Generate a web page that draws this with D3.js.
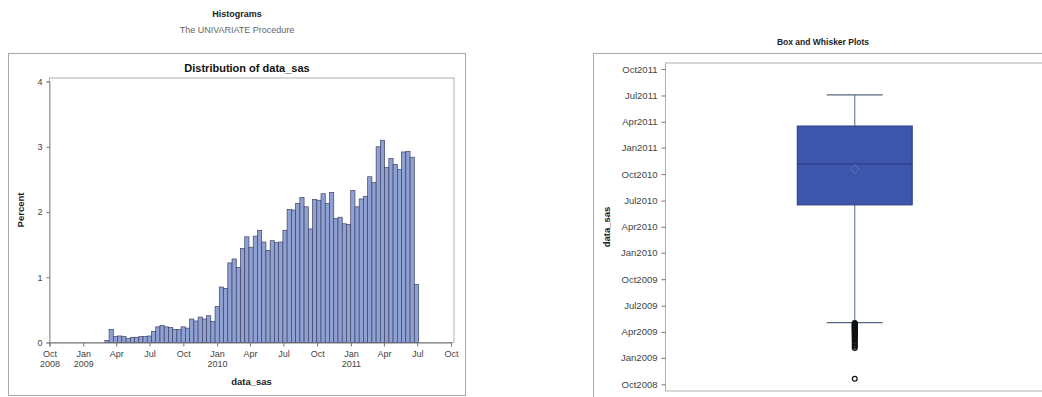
<!DOCTYPE html>
<html>
<head>
<meta charset="utf-8">
<script src="https://cdn.jsdelivr.net/npm/d3@7/dist/d3.min.js"></script>
<style>
  html, body { margin: 0; padding: 0; background: #fff; }
  svg { display: block; font-family: "Liberation Sans", Arial, sans-serif; }
</style>
</head>
<body>
<svg id="chart" width="1042" height="397"></svg>
<script>
// ---- Histogram data: percent of observations per date bin ----
const binFirstStart = "2009-03-01";
const binWidthDays = 11.56;
const binPercents = [
  0.03, 0.20, 0.09, 0.10, 0.09, 0.06, 0.08, 0.08, 0.09, 0.09,
  0.10, 0.17, 0.24, 0.26, 0.24, 0.23, 0.20, 0.20, 0.24, 0.22,
  0.36, 0.33, 0.39, 0.36, 0.41, 0.32, 0.55, 0.85, 0.83, 1.22,
  1.28, 1.15, 1.44, 1.62, 1.46, 1.63, 1.72, 1.54, 1.41, 1.56,
  1.53, 1.54, 1.72, 2.04, 2.03, 2.13, 2.22, 2.08, 1.74, 2.19,
  2.18, 2.28, 2.13, 2.30, 1.90, 1.92, 1.82, 1.81, 2.33, 2.08,
  2.20, 2.24, 2.54, 2.45, 3.00, 3.10, 2.68, 2.82, 2.73, 2.65,
  2.92, 2.93, 2.84, 0.89
];
const histTickDates = [
  "2008-10-01", "2009-01-01", "2009-04-01", "2009-07-01", "2009-10-01",
  "2010-01-01", "2010-04-01", "2010-07-01", "2010-10-01",
  "2011-01-01", "2011-04-01", "2011-07-01", "2011-10-01"
];
const histTickMonths = ["Oct", "Jan", "Apr", "Jul", "Oct", "Jan", "Apr", "Jul", "Oct", "Jan", "Apr", "Jul", "Oct"];
const histTickYears  = ["2008", "2009", "", "", "", "2010", "", "", "", "2011", "", "", ""];
const percentTicks = [0, 1, 2, 3, 4];

// ---- Box plot summary of data_sas ----
const boxStatNames  = ["lowWhisker", "q1", "median", "mean", "q3", "highWhisker"];
const boxStatDates  = ["2009-05-03", "2010-06-16", "2010-11-05", "2010-10-18", "2011-03-17", "2011-07-03"];
const outlierDates = [
  "2009-05-02", "2009-04-30", "2009-04-28", "2009-04-26", "2009-04-24", "2009-04-22",
  "2009-04-20", "2009-04-18", "2009-04-16", "2009-04-14", "2009-04-12", "2009-04-10",
  "2009-04-08", "2009-04-06", "2009-04-04", "2009-04-01", "2009-03-29", "2009-03-26",
  "2009-03-23", "2009-03-20", "2009-03-17", "2009-03-14", "2009-03-10", "2009-03-06",
  "2009-03-02", "2009-02-25", "2009-02-19", "2009-02-14", "2009-02-09", "2009-02-04",
  "2008-10-20"
];
const boxTickDates = [
  "2008-10-01", "2009-01-01", "2009-04-01", "2009-07-01", "2009-10-01",
  "2010-01-01", "2010-04-01", "2010-07-01", "2010-10-01",
  "2011-01-01", "2011-04-01", "2011-07-01", "2011-10-01"
];

const parse = d3.utcParse("%Y-%m-%d");
const svg = d3.select("#chart");
const DAY = 864e5;

// ---------------- Page headings ----------------
svg.append("text").attr("x", 237).attr("y", 16.5).attr("text-anchor", "middle")
  .attr("font-size", 9).attr("font-weight", "bold").attr("fill", "#222").text("Histograms");
svg.append("text").attr("x", 237).attr("y", 33).attr("text-anchor", "middle")
  .attr("font-size", 9).attr("fill", "#666").text("The UNIVARIATE Procedure");

// ---------------- Histogram panel ----------------
svg.append("rect").attr("x", 8.5).attr("y", 53.5).attr("width", 457).attr("height", 342)
  .attr("fill", "#fff").attr("stroke", "#a8a8a8");

const hp = { left: 49.5, right: 454, top: 78, bottom: 342.5 };
const x = d3.scaleUtc()
  .domain([parse("2008-10-01"), parse("2011-10-01")])
  .range([49.5, 451]);
const y = d3.scaleLinear().domain([0, 4]).range([hp.bottom, 81.5]);

svg.append("text").attr("x", 247).attr("y", 72).attr("text-anchor", "middle")
  .attr("font-size", 11).attr("font-weight", "bold").attr("fill", "#111")
  .text("Distribution of data_sas");

svg.append("rect").attr("x", hp.left).attr("y", hp.top)
  .attr("width", hp.right - hp.left).attr("height", hp.bottom - hp.top)
  .attr("fill", "none").attr("stroke", "#b0b0b0");

const start0 = parse(binFirstStart).getTime();
const bins = binPercents.map((p, i) => ({
  x0: new Date(start0 + i * binWidthDays * DAY),
  x1: new Date(start0 + (i + 1) * binWidthDays * DAY),
  p
}));
svg.append("g").selectAll("rect").data(bins).join("rect")
  .attr("x", d => x(d.x0))
  .attr("width", d => x(d.x1) - x(d.x0))
  .attr("y", d => y(d.p))
  .attr("height", d => y(0) - y(d.p))
  .attr("fill", "#8fa0d3")
  .attr("stroke", "#3d4366")
  .attr("stroke-width", 0.7);

const yAxis = svg.append("g").attr("transform", `translate(${hp.left},0)`)
  .call(d3.axisLeft(y).tickValues(percentTicks).tickFormat(d3.format("d")).tickSize(3).tickPadding(4));
yAxis.select(".domain").attr("stroke", "#9a9a9a");
yAxis.selectAll(".tick line").attr("stroke", "#777");
yAxis.selectAll(".tick text").attr("font-size", 9).attr("fill", "#444")
  .attr("font-family", "Liberation Sans, Arial, sans-serif");

const xAxis = svg.append("g").attr("transform", `translate(0,${hp.bottom})`)
  .call(d3.axisBottom(x).tickValues(histTickDates.map(parse))
    .tickFormat((d, i) => histTickMonths[i]).tickSize(4).tickPadding(4));
xAxis.select(".domain").attr("stroke", "#777");
xAxis.selectAll(".tick line").attr("stroke", "#777");
xAxis.selectAll(".tick text").attr("font-size", 9).attr("fill", "#444")
  .attr("font-family", "Liberation Sans, Arial, sans-serif")
  .each(function (d, i) {
    if (histTickYears[i]) {
      d3.select(this).append("tspan").attr("x", 0).attr("dy", "1.15em").text(histTickYears[i]);
    }
  });

svg.append("text").attr("transform", "translate(24,210) rotate(-90)").attr("text-anchor", "middle")
  .attr("font-size", 9.5).attr("font-weight", "bold").attr("fill", "#222").text("Percent");
svg.append("text").attr("x", 251.5).attr("y", 385).attr("text-anchor", "middle")
  .attr("font-size", 9.5).attr("font-weight", "bold").attr("fill", "#222").text("data_sas");

// ---------------- Box and whisker panel ----------------
svg.append("text").attr("x", 823).attr("y", 45).attr("text-anchor", "middle")
  .attr("font-size", 8.5).attr("font-weight", "bold").attr("fill", "#222").text("Box and Whisker Plots");

svg.append("rect").attr("x", 593.5).attr("y", 53.5).attr("width", 470).attr("height", 360)
  .attr("fill", "#fff").attr("stroke", "#a8a8a8");

const bp = { left: 665.5, right: 1044, top: 63, bottom: 391 };
svg.append("rect").attr("x", bp.left).attr("y", bp.top)
  .attr("width", bp.right - bp.left).attr("height", bp.bottom - bp.top)
  .attr("fill", "none").attr("stroke", "#b0b0b0");

const yb = d3.scaleUtc()
  .domain([parse("2008-10-01"), parse("2011-10-01")])
  .range([384.3, 69]);
const xb = d3.scalePoint().domain(["data_sas"]).range([bp.left, bp.right]).padding(0.5);

const by = svg.append("g").attr("transform", `translate(${bp.left},0)`)
  .call(d3.axisLeft(yb).tickValues(boxTickDates.map(parse))
    .tickFormat(d3.utcFormat("%b%Y")).tickSize(4).tickPadding(4));
by.select(".domain").remove();
by.selectAll(".tick line").attr("stroke", "#777");
by.selectAll(".tick text").attr("font-size", 9.5).attr("fill", "#444")
  .attr("font-family", "Liberation Sans, Arial, sans-serif");

svg.append("text").attr("transform", "translate(610,227) rotate(-90)").attr("text-anchor", "middle")
  .attr("font-size", 9.5).attr("font-weight", "bold").attr("fill", "#222").text("data_sas");

const stat = {};
boxStatNames.forEach((n, i) => { stat[n] = parse(boxStatDates[i]); });
const cx = xb("data_sas");
const boxHalf = 57.5, capHalf = 28;

// whisker stems and caps
const whiskerColor = "#56677f";
svg.append("line").attr("x1", cx).attr("x2", cx)
  .attr("y1", yb(stat.highWhisker)).attr("y2", yb(stat.q3))
  .attr("stroke", whiskerColor).attr("stroke-width", 1);
svg.append("line").attr("x1", cx).attr("x2", cx)
  .attr("y1", yb(stat.q1)).attr("y2", yb(stat.lowWhisker))
  .attr("stroke", whiskerColor).attr("stroke-width", 1);
[stat.highWhisker, stat.lowWhisker].forEach(v => {
  svg.append("line").attr("x1", cx - capHalf).attr("x2", cx + capHalf)
    .attr("y1", yb(v)).attr("y2", yb(v))
    .attr("stroke", whiskerColor).attr("stroke-width", 1.2);
});

// box
svg.append("rect").attr("x", cx - boxHalf).attr("width", boxHalf * 2)
  .attr("y", yb(stat.q3)).attr("height", yb(stat.q1) - yb(stat.q3))
  .attr("fill", "#3d56ab").attr("stroke", "#2d3f85").attr("stroke-width", 1);
svg.append("line").attr("x1", cx - boxHalf).attr("x2", cx + boxHalf)
  .attr("y1", yb(stat.median)).attr("y2", yb(stat.median))
  .attr("stroke", "#253a80").attr("stroke-width", 1.2);
// mean marker (diamond)
const my = yb(stat.mean);
svg.append("path")
  .attr("d", `M${cx},${my - 4.5}L${cx + 4},${my}L${cx},${my + 4.5}L${cx - 4},${my}Z`)
  .attr("fill", "none").attr("stroke", "#5a74c8").attr("stroke-width", 1);

// outliers
svg.append("g").selectAll("circle").data(outlierDates.map(parse)).join("circle")
  .attr("cx", cx).attr("cy", d => yb(d)).attr("r", 2.4)
  .attr("fill", "none").attr("stroke", "#111").attr("stroke-width", 1.2);
</script>
</body>
</html>
